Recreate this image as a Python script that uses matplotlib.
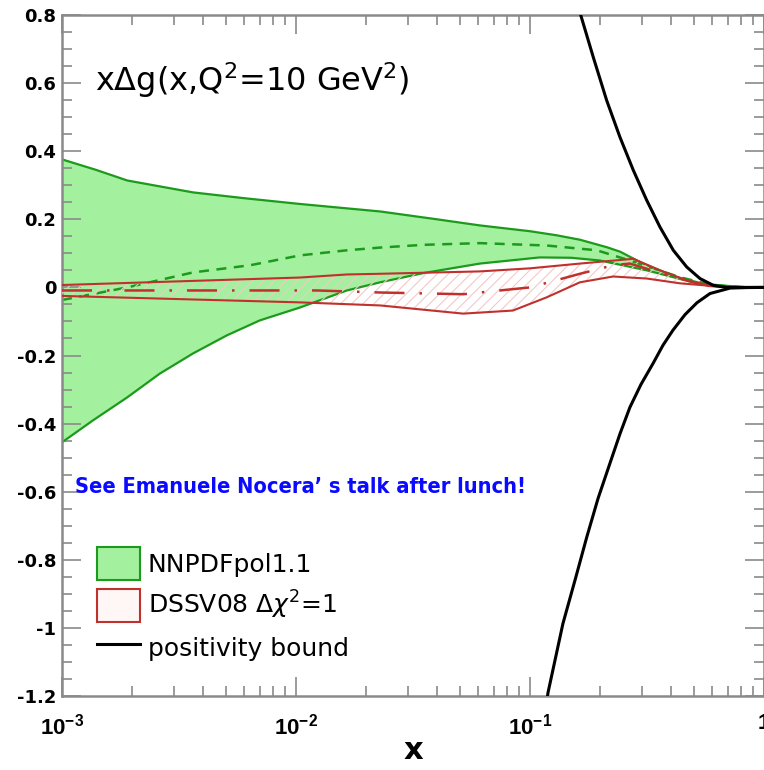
import numpy as np
import matplotlib
matplotlib.use('Agg')
import matplotlib.pyplot as plt
from matplotlib.patches import Patch
from matplotlib.lines import Line2D

plt.rcParams['font.family'] = ['DejaVu Sans']
plt.rcParams['mathtext.fontset'] = 'custom'
plt.rcParams['mathtext.rm'] = 'DejaVu Sans'
plt.rcParams['mathtext.it'] = 'DejaVu Sans:italic'
plt.rcParams['mathtext.bf'] = 'Liberation Sans:bold'
plt.rcParams['hatch.linewidth'] = 0.8

# NNPDFpol1.1 band (x, upper, lower) and central value
nn_x_up = [0.001, 0.0014, 0.0019, 0.0027, 0.00363, 0.006, 0.0104, 0.0229, 0.04, 0.0611,
           0.1, 0.13, 0.1635, 0.213, 0.2425, 0.30, 0.424, 0.58, 0.8, 1.0]
nn_up = [0.376, 0.345, 0.314, 0.295, 0.279, 0.262, 0.245, 0.223, 0.200, 0.182,
         0.165, 0.153, 0.140, 0.118, 0.105, 0.072, 0.030, 0.007, 0.001, 0.0]
nn_x_lo = [0.001, 0.00136, 0.0019, 0.00262, 0.00363, 0.00506, 0.0070, 0.0104, 0.0165, 0.0229,
           0.035, 0.0611, 0.110, 0.15, 0.199, 0.316, 0.517, 0.8, 1.0]
nn_lo = [-0.455, -0.39, -0.323, -0.253, -0.194, -0.141, -0.097, -0.059, -0.009, 0.015,
         0.042, 0.070, 0.088, 0.087, 0.079, 0.050, 0.012, 0.001, 0.0]
nn_x_c = [0.001, 0.0019, 0.00363, 0.00636, 0.0104, 0.0165, 0.0229, 0.035, 0.0611, 0.118, 0.193,
          0.267, 0.35, 0.437, 0.605, 0.8, 1.0]
nn_c = [-0.037, 0.0, 0.044, 0.065, 0.094, 0.109, 0.117, 0.125, 0.13, 0.123, 0.109,
        0.079, 0.052, 0.03, 0.006, 0.001, 0.0]

# DSSV08 band and central value
ds_x_up = [0.001, 0.0104, 0.0165, 0.0229, 0.0611, 0.1, 0.1635, 0.2127, 0.2764, 0.3594,
           0.4674, 0.58, 0.716, 1.0]
ds_up = [0.007, 0.029, 0.038, 0.040, 0.047, 0.056, 0.070, 0.077, 0.084, 0.050,
         0.021, 0.004, 0.0, 0.0]
ds_x_lo = [0.001, 0.0104, 0.0229, 0.0518, 0.0845, 0.118, 0.1635, 0.2265, 0.316, 0.437,
           0.716, 1.0]
ds_lo = [-0.025, -0.044, -0.053, -0.077, -0.068, -0.029, 0.015, 0.032, 0.026, 0.012, 0.0, 0.0]
ds_x_c = [0.001, 0.0123, 0.0229, 0.0518, 0.1, 0.1635, 0.2265, 0.267, 0.370, 0.517, 0.716, 1.0]
ds_c = [-0.009, -0.009, -0.015, -0.020, 0.0, 0.040, 0.065, 0.070, 0.040, 0.012, 0.0, 0.0]

# positivity bound |x dg| <= x g
pb_x_up = [0.1573, 0.1647, 0.1864, 0.2127, 0.2424, 0.2764, 0.3153, 0.3594, 0.4097, 0.4674,
           0.5326, 0.6072, 0.6926, 0.85, 1.0]
pb_up = [0.847, 0.80, 0.676, 0.549, 0.441, 0.344, 0.256, 0.177, 0.109, 0.060,
         0.026, 0.006, 0.0, 0.0, 0.0]
pb_x_lo = [0.1148, 0.1194, 0.1383, 0.1557, 0.1747, 0.1953, 0.2195, 0.2424, 0.2673, 0.298,
           0.3358, 0.370, 0.4079, 0.4596, 0.5171, 0.5877, 0.7164, 0.85, 1.0]
pb_lo = [-1.27, -1.19, -0.987, -0.86, -0.734, -0.62, -0.517, -0.43, -0.352, -0.285,
         -0.223, -0.17, -0.126, -0.080, -0.045, -0.018, -0.002, -0.0005, 0.0]

yticks = [-1.2, -1.0, -0.8, -0.6, -0.4, -0.2, 0.0, 0.2, 0.4, 0.6, 0.8]
yticklabels = ['-1.2', '-1', '-0.8', '-0.6', '-0.4', '-0.2', '0', '0.2', '0.4', '0.6', '0.8']
xticks = [1e-3, 1e-2, 1e-1, 1.0]
xticklabels = [r'$\mathbf{10^{-3}}$', r'$\mathbf{10^{-2}}$', r'$\mathbf{10^{-1}}$', r'$\mathbf{1}$']

GREEN_FILL = '#a3f09f'
GREEN_EDGE = '#1c9a1c'
RED = '#c0302c'
HATCH = '#f3c9c9'
AXCOL = '#8a8a8a'

fig = plt.figure(figsize=(7.64, 7.70), dpi=100)
ax = fig.add_axes([62 / 764, 74 / 770, 702 / 764, 681 / 770])
ax.set_xscale('log')

# green NNPDF band on a common grid made of both edge abscissae
xg = np.unique(np.concatenate([nn_x_up, nn_x_lo]))
lx = np.log10(xg)
ug = np.interp(lx, np.log10(nn_x_up), nn_up)
lg = np.interp(lx, np.log10(nn_x_lo), nn_lo)
ax.fill_between(xg, lg, ug, facecolor=GREEN_FILL, edgecolor='none', zorder=1)
ax.plot(nn_x_up, nn_up, color=GREEN_EDGE, lw=1.6, zorder=2)
ax.plot(nn_x_lo, nn_lo, color=GREEN_EDGE, lw=1.6, zorder=2)
ax.plot(nn_x_c, nn_c, color=GREEN_EDGE, lw=1.8, ls=(0, (4.0, 3.0)), zorder=2)

# DSSV band, hatched
xd = np.unique(np.concatenate([ds_x_up, ds_x_lo]))
lxd = np.log10(xd)
ud = np.interp(lxd, np.log10(ds_x_up), ds_up)
ld = np.interp(lxd, np.log10(ds_x_lo), ds_lo)
ax.fill_between(xd, ld, ud, facecolor='none', edgecolor=HATCH, hatch='///', linewidth=0, zorder=3)
ax.plot(ds_x_up, ds_up, color=RED, lw=1.5, zorder=4)
ax.plot(ds_x_lo, ds_lo, color=RED, lw=1.5, zorder=4)
ax.plot(ds_x_c, ds_c, color=RED, lw=1.8, ls=(0, (12, 6, 1, 6)), zorder=4)

# positivity bound
ax.plot(pb_x_up, pb_up, color='black', lw=2.2, zorder=5)
ax.plot(pb_x_lo, pb_lo, color='black', lw=2.2, zorder=5)

ax.set_xlim(1e-3, 1.0)
ax.set_ylim(-1.2, 0.8)
ax.set_yticks(yticks)
ax.set_yticklabels(yticklabels)
ax.set_yticks(np.arange(-1.2, 0.81, 0.05), minor=True)
ax.set_xticks(xticks)
ax.set_xticklabels(xticklabels)

for s in ax.spines.values():
    s.set_color(AXCOL)
    s.set_linewidth(1.8)
ax.tick_params(which='both', direction='in', top=True, right=True, color=AXCOL, width=1.2)
ax.tick_params(which='major', length=14)
ax.tick_params(which='minor', length=7)
ax.tick_params(axis='y', which='major', labelsize=13, pad=4)
ax.tick_params(axis='x', which='major', labelsize=16, pad=12)
for t in ax.get_yticklabels():
    t.set_fontweight('bold')

ax.set_xlabel('x', fontsize=22, fontweight='bold', labelpad=-2)

ax.text(0.047, 0.905, r'x$\Delta$g(x,Q$^2$=10 GeV$^2$)', transform=ax.transAxes,
        fontsize=23, ha='left', va='center')

ax.text(0.0185, 0.307, 'See Emanuele Nocera\u2019 s talk after lunch!', transform=ax.transAxes,
        fontsize=15.7, fontweight='bold', fontstretch='condensed', color='#0a0aff',
        ha='left', va='center')

handles = [
    Patch(facecolor=GREEN_FILL, edgecolor=GREEN_EDGE, linewidth=1.5),
    Patch(facecolor='#fff6f6', edgecolor=RED, linewidth=1.5),
    Line2D([], [], color='black', lw=2.2),
]
labels = ['NNPDFpol1.1', r'DSSV08 $\Delta\chi^2$=1', 'positivity bound']
ax.legend(handles, labels, loc='upper left', bbox_to_anchor=(0.05, 0.219),
          frameon=False, fontsize=18, handlelength=1.72, handleheight=1.66,
          handletextpad=0.3, labelspacing=0.36, borderpad=0, borderaxespad=0)

fig.savefig('out.png', dpi=100)
